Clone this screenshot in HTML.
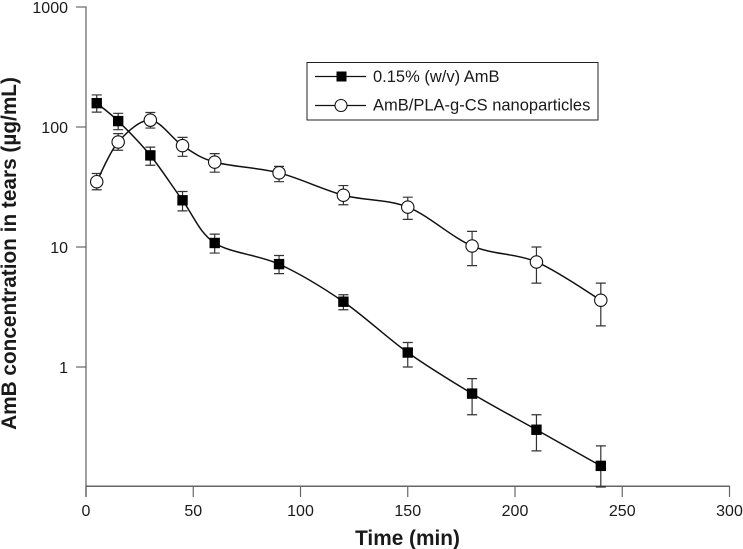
<!DOCTYPE html>
<html>
<head>
<meta charset="utf-8">
<style>
html,body{margin:0;padding:0;background:#fff;}
svg{display:block;}
text{font-family:"Liberation Sans",Arial,sans-serif;fill:#1a1a1a;}
</style>
</head>
<body>
<svg id="chart" xmlns="http://www.w3.org/2000/svg" width="743" height="549" viewBox="0 0 743 549">
<g id="axes"></g>
<g id="series"></g>
<text x="407.500" y="545" text-anchor="middle" font-size="20.800" font-weight="bold">Time (min)</text>
<text transform="translate(16,253.5) rotate(-90)" text-anchor="middle" font-size="20.800" font-weight="bold">AmB concentration in tears (µg/mL)</text>
<g>
<rect x="307" y="62.5" width="291" height="57.5" fill="#fff" stroke="#222" stroke-width="1"/>
<line x1="315" y1="76.5" x2="366" y2="76.5" stroke="#111" stroke-width="1.2"/>
<rect x="336.500" y="71.500" width="10" height="10" fill="#000"/>
<text x="373" y="82" font-size="16.500">0.15% (w/v) AmB</text>
<line x1="315" y1="105.500" x2="366" y2="105.500" stroke="#111" stroke-width="1.2"/>
<circle cx="341" cy="105.500" r="6" fill="#fff" stroke="#111" stroke-width="1.1"/>
<text x="373" y="110.700" font-size="16.500">AmB/PLA-g-CS nanoparticles</text>
</g>
</svg>
<script>
var times = [5, 15, 30, 45, 60, 90, 120, 150, 180, 210, 240];
var ambValues = [158, 112, 58, 24.5, 10.8, 7.2, 3.5, 1.32, 0.6, 0.3, 0.15];
var ambHigh = [185, 130, 68, 29, 12.8, 8.5, 4, 1.6, 0.8, 0.4, 0.22];
var ambLow = [133, 95, 48, 20, 8.9, 6, 3, 1, 0.4, 0.2, 0.1];
var nanoValues = [35, 75, 114, 70, 51, 41.5, 27, 21.5, 10.2, 7.5, 3.6];
var nanoHigh = [41, 88, 132, 82, 60, 47, 32.5, 26, 13.5, 10, 5];
var nanoLow = [30, 64, 98, 57, 42, 35, 22.5, 17, 7, 5, 2.2];
var xTicks = [0, 50, 100, 150, 200, 250, 300];
var yTicks = [1000, 100, 10, 1];

var NS = 'http://www.w3.org/2000/svg';
function xScale(t) { return 86 + t * (729.5 - 86) / 300; }
function yScale(v) { return 367 - 120 * Math.log10(v); }
function make(parent, tag, attrs) {
  var el = document.createElementNS(NS, tag);
  for (var k in attrs) { el.setAttribute(k, attrs[k]); }
  parent.appendChild(el);
  return el;
}
var axes = document.getElementById('axes');
var seriesGroup = document.getElementById('series');

var yAxis = make(axes, 'line', {x1: 86, y1: 6.5, x2: 86, y2: 497, stroke: '#777', 'stroke-width': 1.4});


var xAxis = make(axes, 'line', {x1: 86, y1: 486.2, x2: 730, y2: 486.2, stroke: '#333', 'stroke-width': 1.2});



yTicks.forEach(function (v) {
  var y = yScale(v);
  var tick = make(axes, 'line', {x1: 76, y1: y, x2: 86, y2: y, stroke: '#666', 'stroke-width': 1.2});
  
  
  var label = make(axes, 'text', {x: 68, y: y + 5.8, 'text-anchor': 'end', 'font-size': 16});
  
  
  label.textContent = String(v);
});

xTicks.forEach(function (t) {
  var x = xScale(t);
  var tick = make(axes, 'line', {x1: x, y1: 486, x2: x, y2: 497, stroke: '#666', 'stroke-width': 1.2});
  
  
  var label = make(axes, 'text', {x: x, y: 516, 'text-anchor': 'middle', 'font-size': 16});
  
  
  label.textContent = String(t);
});

function smoothPath(pts) {
  var d = 'M' + pts[0][0] + ' ' + pts[0][1];
  var k = 0.16;
  for (var i = 0; i < pts.length - 1; i++) {
    var p0 = pts[Math.max(i - 1, 0)], p1 = pts[i], p2 = pts[i + 1], p3 = pts[Math.min(i + 2, pts.length - 1)];
    var c1x = p1[0] + (p2[0] - p0[0]) * k, c1y = p1[1] + (p2[1] - p0[1]) * k;
    var c2x = p2[0] - (p3[0] - p1[0]) * k, c2y = p2[1] - (p3[1] - p1[1]) * k;
    d += 'C' + c1x + ' ' + c1y + ' ' + c2x + ' ' + c2y + ' ' + p2[0] + ' ' + p2[1];
  }
  return d;
}

function drawErrors(highs, lows, name) {
  times.forEach(function (t, i) {
    var x = xScale(t), yh = yScale(highs[i]), yl = yScale(lows[i]);
    var d = 'M' + x + ' ' + yh + 'V' + yl + 'M' + (x - 5) + ' ' + yh + 'H' + (x + 5) + 'M' + (x - 5) + ' ' + yl + 'H' + (x + 5);
    var bar = make(seriesGroup, 'path', {d: d, fill: 'none', stroke: '#333', 'stroke-width': 1.2});
    
    
  });
}
function drawLine(values, name) {
  var pts = times.map(function (t, i) { return [xScale(t), yScale(values[i])]; });
  var line = make(seriesGroup, 'path', {d: smoothPath(pts), fill: 'none', stroke: '#111', 'stroke-width': 1.5});
  
  
}

drawErrors(nanoHigh, nanoLow, 'nanoparticles-error-bar');
drawErrors(ambHigh, ambLow, 'amb-error-bar');
drawLine(nanoValues, 'nanoparticles-line');
drawLine(ambValues, 'amb-line');

times.forEach(function (t, i) {
  var c = make(seriesGroup, 'circle', {cx: xScale(t), cy: yScale(nanoValues[i]), r: 6.2, fill: '#fff', stroke: '#111', 'stroke-width': 1.1});
  
  
});
times.forEach(function (t, i) {
  var r = make(seriesGroup, 'rect', {x: xScale(t) - 5.2, y: yScale(ambValues[i]) - 5.2, width: 10.4, height: 10.4, fill: '#000'});
  
  
});
</script>
</body>
</html>
